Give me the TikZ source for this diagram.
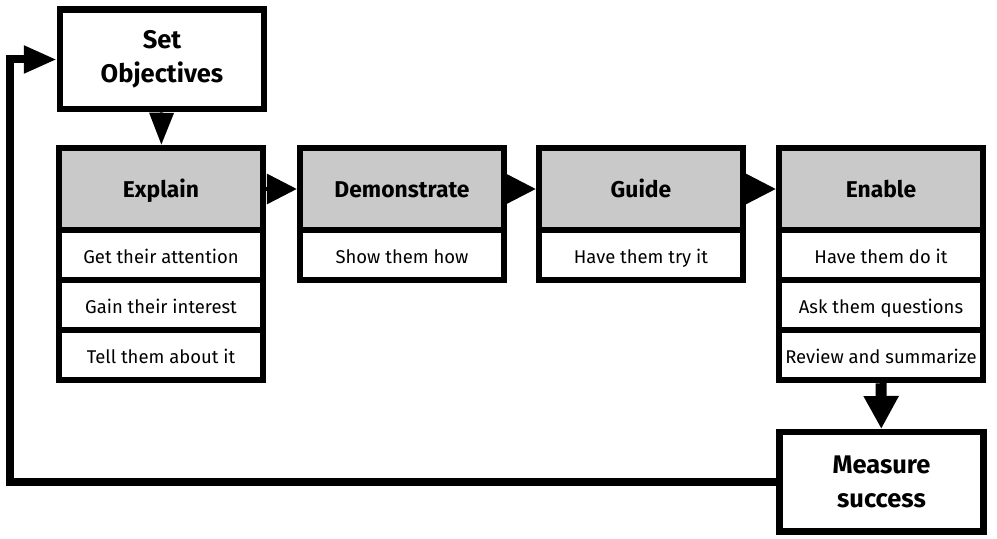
\documentclass[tikz,border=0pt]{standalone}
\usepackage{fontspec}
\setmainfont{Fira Sans}
\usetikzlibrary{arrows.meta, positioning}
\definecolor{hdrgray}{RGB}{201, 201, 201}
\tikzset{
    frame/.style  ={draw=black, line width=0.13cm, fill=white,
                    minimum width=4.08cm, align=center},
    bigbox/.style ={frame, minimum height=1.99cm,
                    font=\fontsize{14.5}{19.5}\selectfont\bfseries},
    hdr/.style    ={frame, fill=hdrgray, minimum height=1.64cm,
                    text height=2.3ex, text depth=0.5ex,
                    font=\fontsize{13}{15}\selectfont\bfseries},
    task/.style   ={frame, minimum height=1.0cm,
                    text height=2.4ex, text depth=0.5ex,
                    font=\fontsize{10.5}{12}\selectfont},
    nextar/.style ={-{Triangle[length=0.6cm, width=0.6cm]}, line width=2pt},
    downar/.style ={-{Triangle[length=0.64cm, width=0.48cm]}, line width=2pt},
    fatar/.style  ={-{Triangle[length=0.66cm, width=0.66cm]}, line width=0.22cm},
    loopar/.style ={-{Triangle[length=0.66cm, width=0.52cm]}, line width=0.16cm}
}

\begin{document}
\begin{tikzpicture}[x=1cm, y=1cm]
  \useasboundingbox (0,0) rectangle (19.94,-10.78);

  \node[bigbox] (setobj) at (3.24,-1.19) {Set\\Objectives};

  % stage headers
  \node[hdr] (explain) at (3.22,-3.78)  {Explain};
  \node[hdr] (demo)    at (8.04,-3.78)  {Demonstrate};
  \node[hdr] (guide)   at (12.82,-3.78) {Guide};
  \node[hdr] (enable)  at (17.62,-3.78) {Enable};

  % tasks under each stage
  \node[task] (explainA) at (3.22,-5.10) {Get their attention};
  \node[task] (explainB) at (3.22,-6.10) {Gain their interest};
  \node[task] (explainC) at (3.22,-7.10) {Tell them about it};
  \node[task] (demoA)    at (8.04,-5.10) {Show them how};
  \node[task] (guideA)   at (12.82,-5.10) {Have them try it};
  \node[task] (enableA)  at (17.62,-5.10) {Have them do it};
  \node[task] (enableB)  at (17.62,-6.10) {Ask them questions};
  \node[task] (enableC)  at (17.62,-7.10) {Review and summarize};

  \node[bigbox] (measure) at (17.63,-9.64) {Measure\\success};

  \draw[downar] (setobj) -- (explain);
  \draw[nextar] (explain) -- (demo);
  \draw[nextar] (demo) -- (guide);
  \draw[nextar] (guide) -- (enable);
  \draw[fatar] (enableC) -- (measure);

  % back to the start
  \coordinate (loop) at (0.2,0);
  \draw[loopar] (measure.west) -| (loop |- setobj.west) -- (setobj.west);
\end{tikzpicture}
\end{document}
